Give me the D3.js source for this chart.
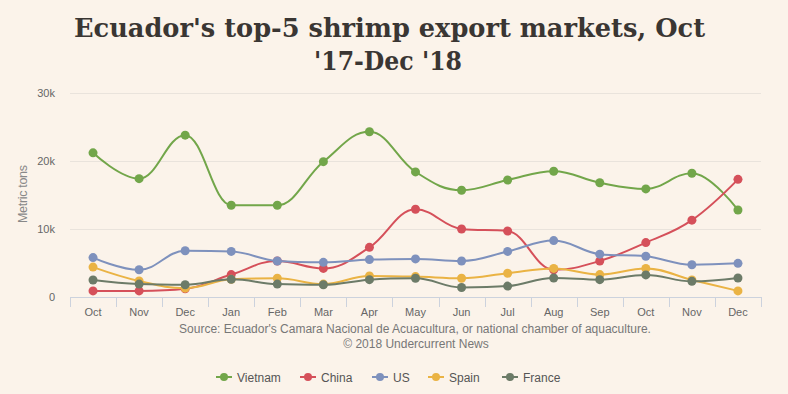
<!DOCTYPE html>
<html>
<head>
<meta charset="utf-8">
<script src="https://cdn.jsdelivr.net/npm/d3@7/dist/d3.min.js"></script>
<style>
html,body{margin:0;padding:0;background:#fbf3ea;}
svg{display:block;}
</style>
</head>
<body>
<svg id="chart" width="788" height="394"></svg>
<script>
const months = ["Oct","Nov","Dec","Jan","Feb","Mar","Apr","May","Jun","Jul","Aug","Sep","Oct","Nov","Dec"];
const vietnam = [21200,17400,23800,13500,13500,19900,24300,18400,15700,17200,18500,16800,15900,18200,12800];
const china   = [900,900,1200,3300,5300,4200,7300,12900,10000,9700,4000,5300,8000,11300,17300];
const us      = [5800,4000,6800,6700,5300,5100,5500,5600,5300,6700,8300,6300,6000,4750,4950];
const spain   = [4400,2350,1300,2600,2750,1900,3100,3000,2750,3500,4200,3300,4200,2500,900];
const france  = [2500,1900,1800,2600,1900,1800,2550,2750,1400,1600,2800,2550,3250,2300,2800];
const seriesNames = ["Vietnam","China","US","Spain","France"];
const seriesColors = ["#72a64a","#d5505a","#7e91bd","#eab344","#6c7b68"];
const yTicks = [0,10000,20000,30000];
const titleLines = ["Ecuador's top-5 shrimp export markets, Oct","'17-Dec '18"];
const sourceLines = ["Source: Ecuador's Camara Nacional de Acuacultura, or national chamber of aquaculture.","© 2018 Undercurrent News"];

const series = [vietnam, china, us, spain, france];
const svg = d3.select("#chart");
const W = 788, H = 394;
const plot = {left: 70, right: 761, top: 93, bottom: 297};

svg.append("rect").attr("width",W).attr("height",H).attr("fill","#fbf3ea");

const x = d3.scaleBand().domain(d3.range(months.length)).range([plot.left, plot.right]);
const y = d3.scaleLinear().domain([0,30000]).range([plot.bottom, plot.top]);
const cx = i => x(i) + x.bandwidth()/2;

// title
const title = svg.append("g").attr("font-family","'DejaVu Serif', Georgia, serif").attr("font-weight","bold").attr("fill","#3a3633");
title.append("text").attr("x",389.5).attr("y",37).attr("text-anchor","middle").attr("font-size",26)
  .attr("textLength",631).attr("lengthAdjust","spacingAndGlyphs").text(titleLines[0]);
title.append("text").attr("x",388).attr("y",70).attr("text-anchor","middle").attr("font-size",26)
  .attr("textLength",148).attr("lengthAdjust","spacingAndGlyphs").text(titleLines[1]);

// grid
svg.append("g").selectAll("line").data(yTicks.filter(d=>d>0)).join("line")
  .attr("x1",plot.left).attr("x2",plot.right)
  .attr("y1",d=>Math.round(y(d))+0.5).attr("y2",d=>Math.round(y(d))+0.5)
  .attr("stroke","#e9e3dc").attr("stroke-width",1);

// y labels
svg.append("g").selectAll("text").data(yTicks).join("text")
  .attr("x",55).attr("y",d=>y(d)+4).attr("text-anchor","end")
  .attr("font-family","'Liberation Sans', Arial, sans-serif").attr("font-size",11).attr("fill","#666")
  .text(d=>d===0?"0":d3.format("d")(d/1000)+"k");

svg.append("text").attr("transform","translate(27,194) rotate(-90)").attr("text-anchor","middle")
  .attr("font-family","'Liberation Sans', Arial, sans-serif").attr("font-size",12.5).attr("fill","#888")
  .attr("textLength",58).attr("lengthAdjust","spacing").text("Metric tons");

// x axis
const xAxis = svg.append("g");
xAxis.append("line").attr("x1",plot.left).attr("x2",plot.right).attr("y1",plot.bottom+0.5).attr("y2",plot.bottom+0.5)
  .attr("stroke","#ccd2dd").attr("stroke-width",1);
const bounds = d3.range(months.length+1).map(i => i<months.length ? x(i) : x(months.length-1)+x.bandwidth());
xAxis.selectAll("line.tick").data(bounds).join("line").attr("class","tick")
  .attr("x1",d=>Math.round(d)+0.5).attr("x2",d=>Math.round(d)+0.5)
  .attr("y1",plot.bottom).attr("y2",plot.bottom+10).attr("stroke","#ccd2dd");
xAxis.selectAll("text").data(months).join("text")
  .attr("x",(d,i)=>cx(i)).attr("y",316).attr("text-anchor","middle")
  .attr("font-family","'Liberation Sans', Arial, sans-serif").attr("font-size",11).attr("fill","#666")
  .text(d=>d);

// source
svg.append("g").selectAll("text").data(sourceLines).join("text")
  .attr("x",(d,i)=> i===0?415:416).attr("y",(d,i)=>333+i*15).attr("text-anchor","middle")
  .attr("font-family","'Liberation Sans', Arial, sans-serif").attr("font-size",12).attr("fill","#777")
  .text(d=>d);

// Highcharts-like spline path
function splinePath(pts){
  const s = 1.5, den = s+1;
  const rc = [];
  let d = "M"+pts[0][0]+","+pts[0][1];
  for(let i=0;i<pts.length;i++){
    const [px,py] = pts[i];
    let lcx=px, lcy=py;
    if(i>0 && i<pts.length-1){
      const [lx,ly]=pts[i-1],[nx,ny]=pts[i+1];
      lcx=(s*px+lx)/den; lcy=(s*py+ly)/den;
      let rcx=(s*px+nx)/den, rcy=(s*py+ny)/den;
      let corr=0;
      if(rcx!==lcx) corr=((rcy-lcy)*(rcx-px))/(rcx-lcx)+py-rcy;
      lcy+=corr; rcy+=corr;
      if(lcy>ly && lcy>py){lcy=Math.max(ly,py); rcy=2*py-lcy;}
      else if(lcy<ly && lcy<py){lcy=Math.min(ly,py); rcy=2*py-lcy;}
      if(rcy>ny && rcy>py){rcy=Math.max(ny,py); lcy=2*py-rcy;}
      else if(rcy<ny && rcy<py){rcy=Math.min(ny,py); lcy=2*py-rcy;}
      rc[i]=[rcx,rcy];
    }
    if(i>0){
      const prev = rc[i-1] || pts[i-1];
      d += "C"+prev[0]+","+prev[1]+","+lcx+","+lcy+","+px+","+py;
    }
  }
  return d;
}

const gSeries = svg.append("g");
series.forEach((vals,si)=>{
  const pts = vals.map((v,i)=>[cx(i), y(v)]);
  const g = gSeries.append("g");
  g.append("path").attr("d",splinePath(pts)).attr("fill","none")
    .attr("stroke",seriesColors[si]).attr("stroke-width",2).attr("stroke-linejoin","round");
  g.selectAll("circle").data(vals).join("circle")
    .attr("cx",(d,i)=>cx(i)).attr("cy",d=>y(d)).attr("r",4.5).attr("fill",seriesColors[si]);
});

// legend
const legendX = [216,300,372,428,502];
const legend = svg.append("g");
seriesNames.forEach((n,i)=>{
  const g = legend.append("g").attr("transform",`translate(${legendX[i]},377)`);
  g.append("line").attr("x1",0).attr("x2",16).attr("y1",0).attr("y2",0).attr("stroke",seriesColors[i]).attr("stroke-width",2);
  g.append("circle").attr("cx",8).attr("cy",0).attr("r",4).attr("fill",seriesColors[i]);
  g.append("text").attr("x",21).attr("y",4.5).attr("font-family","'Liberation Sans', Arial, sans-serif")
    .attr("font-size",12).attr("fill","#555").text(n);
});
</script>
</body>
</html>
